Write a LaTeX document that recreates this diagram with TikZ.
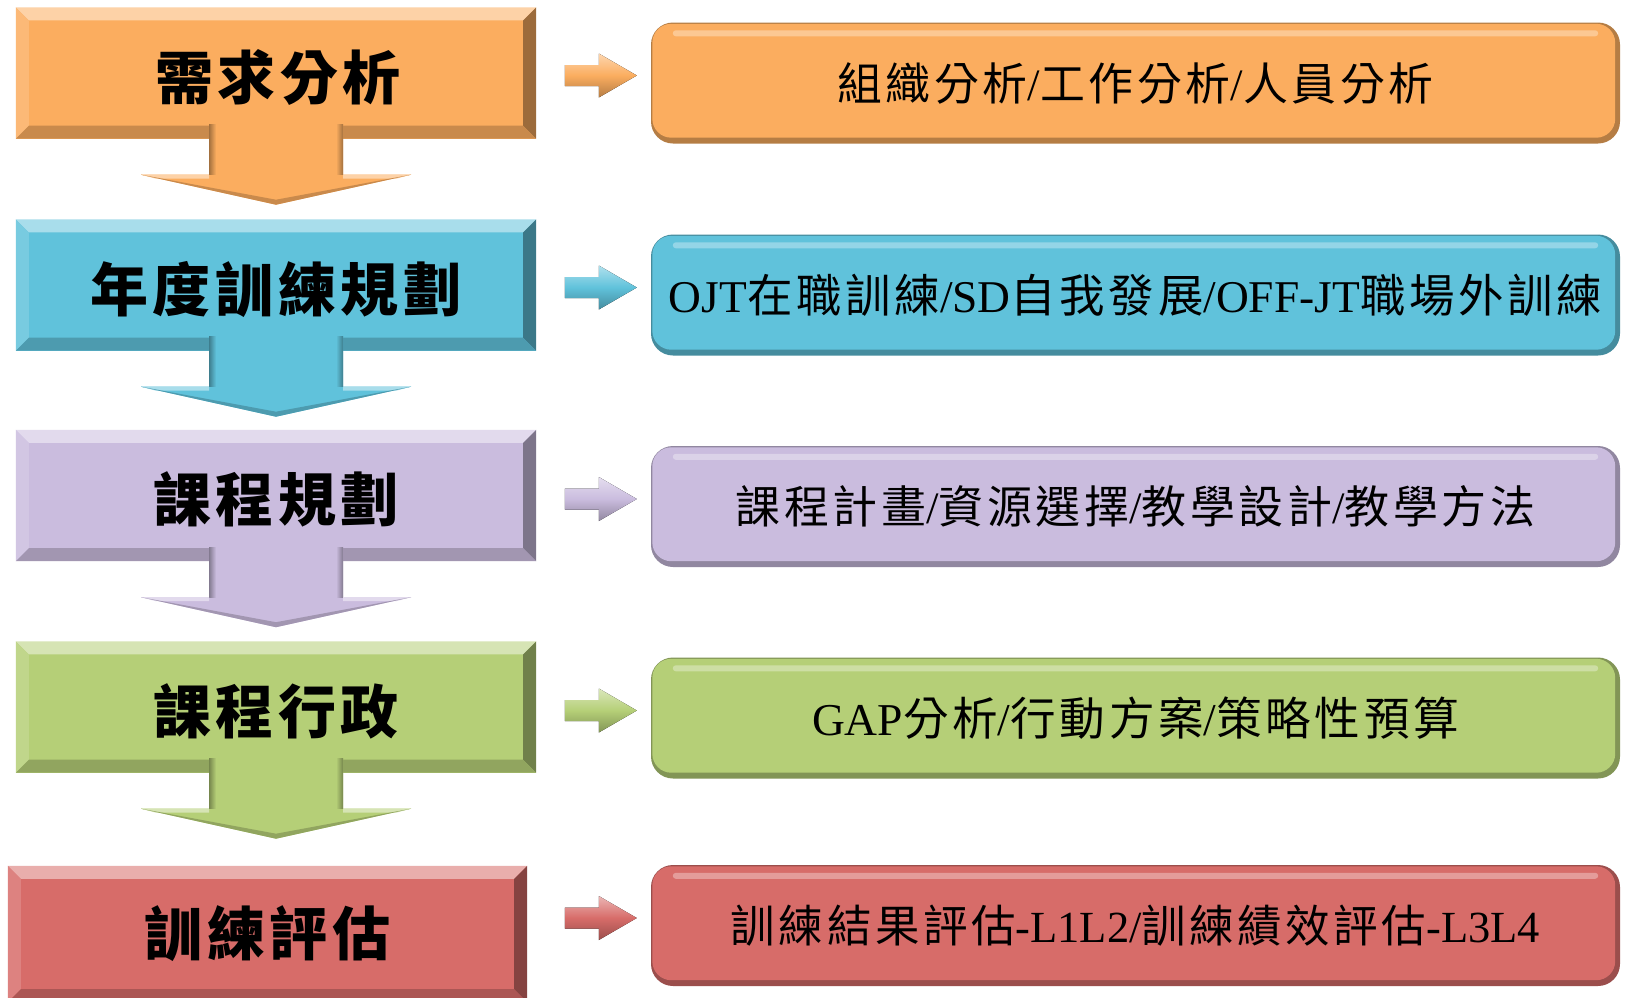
\documentclass[tikz,border=0pt]{standalone}
\usepackage{fontspec}
\usepackage{graphicx}
\setmainfont{Liberation Serif}
\newfontfamily\cjk[LetterSpace=8]{Noto Sans CJK TC}
\usetikzlibrary{calc}
\definecolor{corg}{HTML}{FBAD5F}
\definecolor{ccya}{HTML}{60C2DB}
\definecolor{cpur}{HTML}{CABCDE}
\definecolor{cgrn}{HTML}{B5CF77}
\definecolor{cred}{HTML}{D76C69}
\newcommand\fitw[2]{\resizebox{#1pt}{!}{#2}}
\newcommand\bevelbox[2]{%
  \fill[#2!55!white] (#1.north west) -- (#1.north east) -- ($(#1.north east)+(-13,13)$) -- ($(#1.north west)+(13,13)$) -- cycle;
  \fill[#2!85!white] (#1.north west) -- ($(#1.north west)+(13,13)$) -- ($(#1.south west)+(13,-13)$) -- (#1.south west) -- cycle;
  \fill[#2!62!black] (#1.north east) -- (#1.south east) -- ($(#1.south east)+(-13,-13)$) -- ($(#1.north east)+(-13,13)$) -- cycle;
  \fill[#2!80!black] (#1.south west) -- (#1.south east) -- ($(#1.south east)+(-13,-13)$) -- ($(#1.south west)+(13,-13)$) -- cycle;
}
\newcommand\dnarrow[2]{%
  \fill[#2] ($(#1.south)+(-67,-14)$) -- ($(#1.south)+(67,-14)$) -- ($(#1.south)+(67,36)$) -- ($(#1.south)+(135,36)$) -- ($(#1.south)+(0,66)$) -- ($(#1.south)+(-135,36)$) -- ($(#1.south)+(-67,36)$) -- cycle;
  \fill[left color=#2!65!black, right color=#2] ($(#1.south)+(-67,-14)$) rectangle ($(#1.south)+(-60,36)$);
  \fill[left color=#2, right color=#2!65!black] ($(#1.south)+(60,-14)$) rectangle ($(#1.south)+(67,36)$);
  \fill[#2!55!white] ($(#1.south)+(-135,36)$) -- ($(#1.south)+(-67,36)$) -- ($(#1.south)+(-67,40)$) -- ($(#1.south)+(-120,40)$) -- cycle;
  \fill[#2!55!white] ($(#1.south)+(135,36)$) -- ($(#1.south)+(67,36)$) -- ($(#1.south)+(67,40)$) -- ($(#1.south)+(120,40)$) -- cycle;
  \fill[#2!80!black] ($(#1.south)+(-135,36)$) -- ($(#1.south)+(0,66)$) -- ($(#1.south)+(135,36)$) -- ($(#1.south)+(0,61)$) -- cycle;
}
\newcommand\sidearrow[2]{%
  \fill[top color=#2!50!white, bottom color=#2!72!black, middle color=#2] ($(#1.west)+(-86,-18)$) -- ($(#1.west)+(-52,-18)$) -- ($(#1.west)+(-52,-29.5)$) -- ($(#1.west)+(-14,-7.5)$) -- ($(#1.west)+(-52,14.5)$) -- ($(#1.west)+(-52,3)$) -- ($(#1.west)+(-86,3)$) -- cycle;
}
\newcommand\roundbox[2]{%
  \fill[#2, rounded corners=19] ($(#1.north west)+(1.5,1.5)$) rectangle ($(#1.south east)+(-5,-6)$);
  \fill[#2!45!white, opacity=.6, rounded corners=3] ($(#1.north west)+(22,8)$) rectangle ($(#1.north east)+(-22,14)$);
}
\tikzset{
  lbox/.style={rectangle, inner sep=0pt, minimum width=520, minimum height=131},
  rbox/.style={rectangle, inner sep=0pt, rounded corners=22, minimum width=969, minimum height=121},
  ltext/.style={inner sep=0pt, font=\fontsize{58}{62}\selectfont\bfseries},
  rtext/.style={inner sep=0pt, font=\fontsize{46}{50}\selectfont},
}
\begin{document}
\begin{tikzpicture}[x=1pt,y=-1pt]
\useasboundingbox (0,0) rectangle (1626,997);
\clip (0,0) rectangle (1626,997);
\fill[white] (0,0) rectangle (1626,997);
% left column
\node[lbox, fill=corg] (L1) at (276,73) {};
\bevelbox{L1}{corg}
\node[ltext] (T1) at ($(L1.center)+(2,4)$) {\cjk 需求分析};
\dnarrow{L1}{corg}
\node[lbox, fill=ccya] (L2) at (276,285) {};
\bevelbox{L2}{ccya}
\node[ltext] (T2) at ($(L2.center)+(0,4)$) {\cjk 年度訓練規劃};
\dnarrow{L2}{ccya}
\node[lbox, fill=cpur] (L3) at (276,495.5) {};
\bevelbox{L3}{cpur}
\node[ltext] (T3) at ($(L3.center)+(0,4)$) {\cjk 課程規劃};
\dnarrow{L3}{cpur}
\node[lbox, fill=cgrn] (L4) at (276,707) {};
\bevelbox{L4}{cgrn}
\node[ltext] (T4) at ($(L4.center)+(0,4)$) {\cjk 課程行政};
\dnarrow{L4}{cgrn}
\node[lbox, fill=cred, minimum width=519, minimum height=136] (L5) at (267.5,934) {};
\bevelbox{L5}{cred}
\node[ltext] (T5) at (267.5,934) {\cjk 訓練評估};
% right column
\node[rbox, fill=corg!72!black] (R1) at (1135.5,83) {};
\roundbox{R1}{corg}
\node[rtext] (S1) at (R1.center) {\fitw{596}{{\cjk 組織分析}/{\cjk 工作分析}/{\cjk 人員分析}}};
\sidearrow{R1}{corg}
\node[rbox, fill=ccya!72!black] (R2) at (1135.5,295) {};
\roundbox{R2}{ccya}
\node[rtext] (S2) at (R2.center) {\fitw{933}{OJT{\cjk 在職訓練}/SD{\cjk 自我發展}/OFF-JT{\cjk 職場外訓練}}};
\sidearrow{R2}{ccya}
\node[rbox, fill=cpur!72!black] (R3) at (1135.5,506.5) {};
\roundbox{R3}{cpur}
\node[rtext] (S3) at (R3.center) {\fitw{800}{{\cjk 課程計畫}/{\cjk 資源選擇}/{\cjk 教學設計}/{\cjk 教學方法}}};
\sidearrow{R3}{cpur}
\node[rbox, fill=cgrn!72!black] (R4) at (1135.5,718) {};
\roundbox{R4}{cgrn}
\node[rtext] (S4) at (R4.center) {\fitw{647}{GAP{\cjk 分析}/{\cjk 行動方案}/{\cjk 策略性預算}}};
\sidearrow{R4}{cgrn}
\node[rbox, fill=cred!72!black] (R5) at (1135.5,925.5) {};
\roundbox{R5}{cred}
\node[rtext] (S5) at (R5.center) {\fitw{809}{{\cjk 訓練結果評估}-L1L2/{\cjk 訓練績效評估}-L3L4}};
\sidearrow{R5}{cred}
\end{tikzpicture}
\end{document}
